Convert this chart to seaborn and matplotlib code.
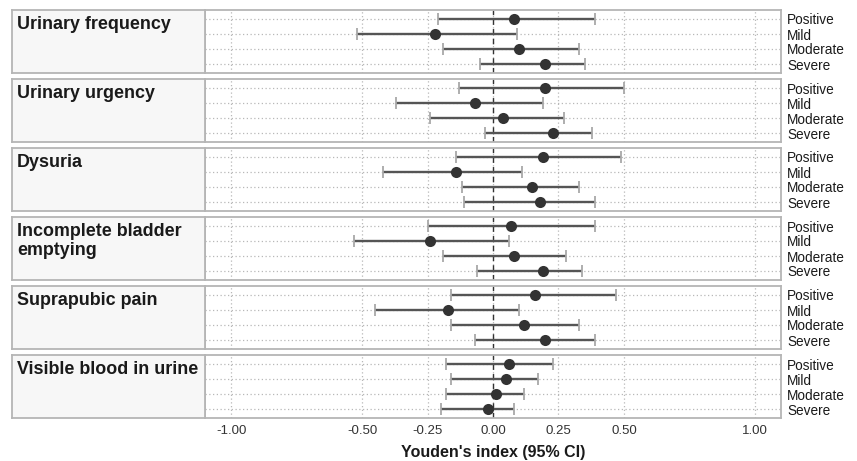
import matplotlib
matplotlib.use("Agg")
import matplotlib.pyplot as plt
import seaborn as sns
import pandas as pd
import numpy as np

# ---- data ----
symptoms = ["Urinary frequency", "Urinary urgency", "Dysuria",
            "Incomplete bladder\nemptying", "Suprapubic pain",
            "Visible blood in urine"]
levels = ["Positive", "Mild", "Moderate", "Severe"]

est_frequency = [0.08, -0.22, 0.10, 0.20]
lo_frequency = [-0.21, -0.52, -0.19, -0.05]
hi_frequency = [0.39, 0.09, 0.33, 0.35]

est_urgency = [0.20, -0.07, 0.04, 0.23]
lo_urgency = [-0.13, -0.37, -0.24, -0.03]
hi_urgency = [0.50, 0.19, 0.27, 0.38]

est_dysuria = [0.19, -0.14, 0.15, 0.18]
lo_dysuria = [-0.14, -0.42, -0.12, -0.11]
hi_dysuria = [0.49, 0.11, 0.33, 0.39]

est_bladder = [0.07, -0.24, 0.08, 0.19]
lo_bladder = [-0.25, -0.53, -0.19, -0.06]
hi_bladder = [0.39, 0.06, 0.28, 0.34]

est_suprapubic = [0.16, -0.17, 0.12, 0.20]
lo_suprapubic = [-0.16, -0.45, -0.16, -0.07]
hi_suprapubic = [0.47, 0.10, 0.33, 0.39]

est_blood = [0.06, 0.05, 0.01, -0.02]
lo_blood = [-0.18, -0.16, -0.18, -0.20]
hi_blood = [0.23, 0.17, 0.12, 0.08]

estimates = [est_frequency, est_urgency, est_dysuria, est_bladder, est_suprapubic, est_blood]
lowers = [lo_frequency, lo_urgency, lo_dysuria, lo_bladder, lo_suprapubic, lo_blood]
uppers = [hi_frequency, hi_urgency, hi_dysuria, hi_bladder, hi_suprapubic, hi_blood]

x_ticks = [-1.0, -0.5, -0.25, 0.0, 0.25, 0.5, 1.0]
x_tick_labels = ["-1.00", "-0.50", "-0.25", "0.00", "0.25", "0.50", "1.00"]
x_label = "Youden's index (95% CI)"

rows = []
for s, e, l, h in zip(symptoms, estimates, lowers, uppers):
    for lev, ei, li, hi in zip(levels, e, l, h):
        rows.append({"symptom": s, "level": lev, "est": ei, "lo": li, "hi": hi})
df = pd.DataFrame(rows)

# ---- style ----
sns.set_theme(style="white")
plt.rcParams["font.family"] = ["Liberation Sans", "DejaVu Sans"]

W, H = 857, 461
fig = plt.figure(figsize=(W / 100, H / 100), dpi=100)

panel_left, panel_right = 205, 781
strip_left = 12
top0, ph, gap = 10, 63, 6
border_col = "#b5b5b5"
grid_col = "#b8b8b8"

for i, s in enumerate(symptoms):
    top = top0 + i * (ph + gap)
    bottom = 1 - (top + ph) / H
    ax = fig.add_axes([panel_left / W, bottom, (panel_right - panel_left) / W, ph / H])
    sax = fig.add_axes([strip_left / W, bottom, (panel_left - strip_left) / W, ph / H])

    sub = df[df["symptom"] == s].reset_index(drop=True)

    # grid
    for xt in x_ticks:
        ax.axvline(xt, color=grid_col, linestyle=(0, (1, 2)), linewidth=0.9, zorder=0)
    for yi in range(len(levels)):
        ax.axhline(yi, color=grid_col, linestyle=(0, (1, 2)), linewidth=0.9, zorder=0)
    ax.axvline(0, color="#333333", linestyle=(0, (4, 3)), linewidth=1.0, zorder=1)

    ypos = np.arange(len(sub))
    eb = ax.errorbar(sub["est"], ypos,
                     xerr=[sub["est"] - sub["lo"], sub["hi"] - sub["est"]],
                     fmt="none", ecolor="#555555", elinewidth=1.7,
                     capsize=4.5, capthick=1.3, zorder=2)
    for cl in eb[1]:
        cl.set_markeredgecolor("#a8a8a8")
        cl.set_color("#a8a8a8")

    sns.pointplot(data=sub, x="est", y="level", order=levels,
                  linestyle="none", errorbar=None, color="#333333",
                  markers="o", markersize=8, markeredgewidth=0, ax=ax)
    for ln in ax.lines:
        if ln.get_marker() == "o":
            ln.set_zorder(3)

    ax.set_xlim(-1.1, 1.1)
    ax.set_ylim(len(levels) - 1 + 0.6, -0.6)
    ax.set_xlabel("")
    ax.set_ylabel("")
    ax.yaxis.tick_right()
    ax.set_yticks(range(len(levels)))
    ax.set_yticklabels(levels)
    ax.tick_params(axis="y", length=0, pad=4.5, labelsize=9.8, labelcolor="#1a1a1a")
    ax.set_xticks(x_ticks)
    if i == len(symptoms) - 1:
        ax.set_xticklabels(x_tick_labels)
        ax.tick_params(axis="x", length=3, width=0.8, color="#555555",
                       labelsize=9.5, labelcolor="#333333", pad=2)
        ax.set_xlabel(x_label, fontsize=11.5, fontweight="bold", labelpad=6, color="#1a1a1a")
    else:
        ax.set_xticklabels([])
        ax.tick_params(axis="x", length=0)
    ax.set_facecolor("white")
    for sp in ax.spines.values():
        sp.set_color(border_col)
        sp.set_linewidth(1.3)
        sp.set_visible(True)

    sax.set_facecolor("#f7f7f7")
    sax.set_xticks([])
    sax.set_yticks([])
    for sp in sax.spines.values():
        sp.set_color(border_col)
        sp.set_linewidth(1.3)
        sp.set_visible(True)
    sax.text(5 / (panel_left - strip_left), 1 - 6 / ph, s, transform=sax.transAxes,
             ha="left", va="top", fontsize=12.9, fontweight="bold",
             color="#1a1a1a", linespacing=1.15)

fig.savefig("out.png", dpi=100, facecolor="white")
